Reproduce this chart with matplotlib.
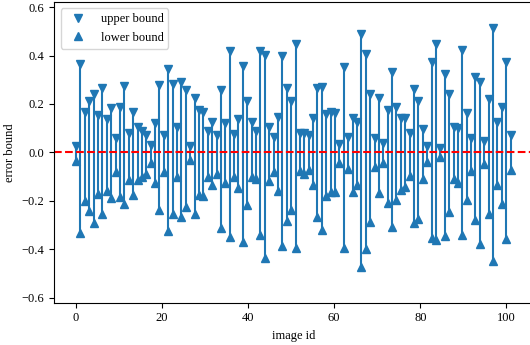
import numpy as np
import matplotlib
matplotlib.use("Agg")
import matplotlib.pyplot as plt

plt.rcParams['font.family'] = ['Liberation Serif', 'DejaVu Serif']
plt.rcParams['font.size'] = 9

# error bounds per image
upper_bound = [0.025, 0.367, 0.169, 0.214, 0.241, 0.155, 0.264, 0.138, 0.182, 0.060,
               0.186, 0.275, 0.081, 0.169, 0.104, 0.089, 0.073, 0.032, 0.120, 0.277,
               0.073, 0.346, 0.282, 0.106, 0.289, 0.258, 0.025, 0.225, 0.177, 0.169,
               0.090, 0.125, 0.073, 0.258, 0.120, 0.419, 0.077, 0.138, 0.358, 0.211,
               0.125, 0.090, 0.419, 0.401, 0.104, 0.063, 0.145, 0.399, 0.268, 0.214,
               0.449, 0.079, 0.079, 0.070, 0.143, 0.266, 0.271, 0.159, 0.166, 0.162,
               0.033, 0.353, 0.063, 0.143, 0.125, 0.488, 0.408, 0.241, 0.059, 0.223,
               0.040, 0.177, 0.333, 0.189, 0.143, 0.143, 0.081, 0.262, 0.214, 0.097,
               0.026, 0.374, 0.447, 0.018, 0.323, 0.241, 0.104, 0.100, 0.422, 0.162,
               0.060, 0.310, 0.289, 0.049, 0.221, 0.515, 0.125, 0.189, 0.374, 0.073]
lower_bound = [-0.035, -0.334, -0.201, -0.243, -0.290, -0.173, -0.252, -0.160, -0.190, -0.081,
               -0.184, -0.211, -0.112, -0.177, -0.115, -0.101, -0.088, -0.042, -0.126, -0.237,
               -0.081, -0.323, -0.252, -0.101, -0.266, -0.225, -0.033, -0.252, -0.174, -0.181,
               -0.100, -0.133, -0.088, -0.311, -0.126, -0.348, -0.100, -0.147, -0.369, -0.218,
               -0.101, -0.110, -0.341, -0.434, -0.119, -0.081, -0.159, -0.385, -0.282, -0.236,
               -0.393, -0.077, -0.090, -0.074, -0.133, -0.268, -0.321, -0.181, -0.163, -0.163,
               -0.042, -0.393, -0.070, -0.163, -0.133, -0.471, -0.400, -0.286, -0.060, -0.167,
               -0.042, -0.207, -0.307, -0.197, -0.153, -0.143, -0.097, -0.293, -0.273, -0.111,
               -0.041, -0.351, -0.362, -0.019, -0.345, -0.245, -0.108, -0.126, -0.341, -0.197,
               -0.077, -0.279, -0.379, -0.047, -0.252, -0.447, -0.136, -0.214, -0.359, -0.071]
# 100 images whose ids run from 0 to 101
image_id = np.linspace(0, 101, len(upper_bound))

fig = plt.figure(figsize=(5.3, 3.45), dpi=100)
ax = fig.add_axes([0.1025, 0.1226, 0.9019, 0.871])

ax.vlines(image_id, lower_bound, upper_bound, color='C0', linewidth=1.5)
ax.plot(image_id, upper_bound, 'v', color='C0', label='upper bound')
ax.plot(image_id, lower_bound, '^', color='C0', label='lower bound')
ax.axhline(0, color='red', linestyle='--', linewidth=1.5)

ax.set_ylim(-0.62, 0.62)
ax.set_yticks([-0.6, -0.4, -0.2, 0.0, 0.2, 0.4, 0.6])
ax.set_xlabel('image id')
ax.set_ylabel('error bound')
ax.legend(loc='upper left')

fig.savefig('out.png', dpi=100)
